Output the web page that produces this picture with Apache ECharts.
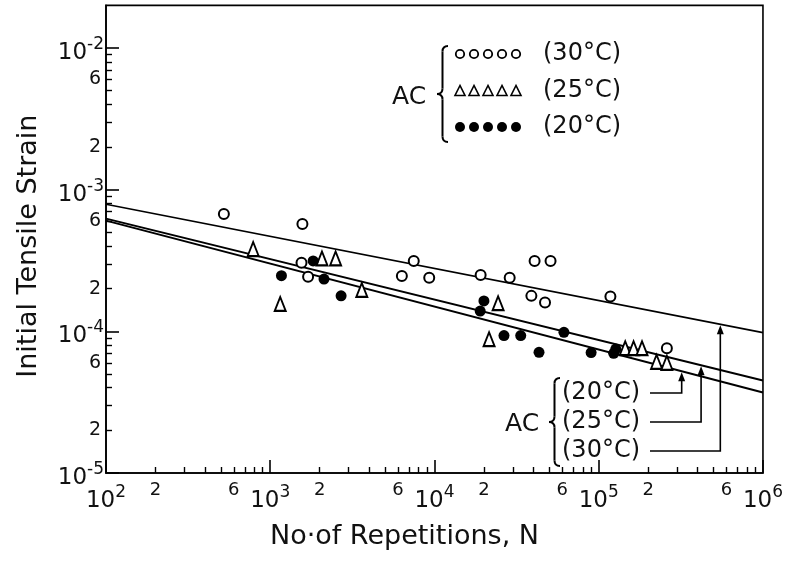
<!DOCTYPE html>
<html>
<head>
<meta charset="utf-8">
<script src="https://cdn.jsdelivr.net/npm/echarts@6/dist/echarts.min.js"></script>
<style>
html, body { margin: 0; padding: 0; background: #fff; }
#chart { width: 786px; height: 561px; }
</style>
</head>
<body>
<div id="chart"></div>
<script>
const FONT = 'DejaVu Sans'
const INK = '#111'

// axis ticks and labels
const xMajor = [1e2, 1e3, 1e4, 1e5, 1e6]
const xMinor = [200, 300, 400, 500, 600, 700, 800, 900,
  2000, 3000, 4000, 5000, 6000, 7000, 8000, 9000,
  20000, 30000, 40000, 50000, 60000, 70000, 80000, 90000,
  200000, 300000, 400000, 500000, 600000, 700000, 800000, 900000]
const xMinorLabels = [200, 600, 2000, 6000, 20000, 60000, 200000, 600000]
const yMajor = [1e-5, 1e-4, 1e-3, 1e-2]
const yMinor = [2e-5, 3e-5, 4e-5, 5e-5, 6e-5, 7e-5, 8e-5, 9e-5,
  2e-4, 3e-4, 4e-4, 5e-4, 6e-4, 7e-4, 8e-4, 9e-4,
  2e-3, 3e-3, 4e-3, 5e-3, 6e-3, 7e-3, 8e-3, 9e-3]
const yMinorLabels = [2e-5, 6e-5, 2e-4, 6e-4, 2e-3, 6e-3]

// fitted lines (strain at N = 1e2 and N = 1e6)
const lineN = [1e2, 1e6]
const fit30 = [7.9e-4, 9.8e-5]
const fit25 = [6.25e-4, 4.5e-5]
const fit20 = [6.05e-4, 3.7e-5]

// measured points [N, strain]
const pts30 = [[522, 6.74e-4], [1570, 5.73e-4], [1550, 3.05e-4], [1700, 2.43e-4],
  [6330, 2.46e-4], [7480, 3.14e-4], [9290, 2.39e-4], [19100, 2.5e-4], [28700, 2.39e-4],
  [38900, 1.78e-4], [40700, 3.14e-4], [50900, 3.14e-4], [47100, 1.6e-4],
  [117800, 1.76e-4], [260000, 7.6e-5]]
const pts25 = [[787, 3.81e-4], [1150, 1.56e-4], [2065, 3.27e-4], [2500, 3.27e-4],
  [3610, 1.96e-4], [21500, 8.8e-5], [24400, 1.58e-4], [145000, 7.6e-5],
  [163000, 7.6e-5], [183500, 7.6e-5], [225000, 6.1e-5], [260000, 6.0e-5]]
const pts20 = [[1170, 2.47e-4], [1825, 3.14e-4], [2125, 2.34e-4], [2700, 1.78e-4],
  [18980, 1.39e-4], [20000, 1.64e-4], [26500, 9.33e-5], [33500, 9.33e-5],
  [43300, 7.11e-5], [61400, 9.84e-5], [89900, 7.08e-5], [123300, 7.0e-5], [127000, 7.5e-5]]

// where the leader arrows meet the lines
const arrowN = { 20: 3.2e5, 25: 4.2e5, 30: 5.5e5 }

const chart = echarts.init(document.getElementById('chart'))

const lead = v => Math.round(v / Math.pow(10, Math.floor(Math.log10(v) + 1e-9)))
const expo = v => Math.round(Math.log10(v))

const supRich = {
  b: { fontSize: 23, fontFamily: FONT, color: INK, lineHeight: 24, padding: [10, 0, 0, 0] },
  s: { fontSize: 17, fontFamily: FONT, color: INK, lineHeight: 18, verticalAlign: 'top' }
}

const baseAxis = {
  type: 'log',
  logBase: 10,
  splitLine: { show: false },
  minorTick: { show: false },
  minorSplitLine: { show: false }
}

const lineSeries = (fit, w) => ({
  type: 'line',
  data: lineN.map((n, i) => [n, fit[i]]),
  symbol: 'none',
  lineStyle: { color: '#000', width: w },
  z: 1,
  silent: true
})

const option = {
  animation: false,
  grid: { left: 106, right: 21, top: 5.4, bottom: 88, show: true, borderColor: '#000', borderWidth: 1.6 },
  xAxis: [
    Object.assign({}, baseAxis, {
      min: 1e2, max: 1e6, position: 'bottom',
      axisLine: { show: true, onZero: false, lineStyle: { color: '#000', width: 1.6 } },
      axisTick: { show: true, inside: true, length: 13, customValues: xMajor, lineStyle: { color: '#000', width: 1.6 } },
      axisLabel: { customValues: xMajor, margin: 11, formatter: v => '{b|10}{s|' + expo(v) + '}', rich: supRich },
      name: 'No·of Repetitions, N',
      nameLocation: 'middle',
      nameGap: 50,
      nameTextStyle: { fontSize: 27, fontFamily: FONT, color: INK, padding: [0, 60, 0, 0] }
    }),
    Object.assign({}, baseAxis, {
      min: 1e2, max: 1e6, position: 'bottom',
      axisLine: { show: false },
      axisTick: { show: true, inside: true, length: 6, customValues: xMinor, lineStyle: { color: '#000', width: 1.4 } },
      axisLabel: { customValues: xMinorLabels, margin: 8, fontSize: 18, fontFamily: FONT, color: INK, formatter: v => String(lead(v)) }
    })
  ],
  yAxis: [
    Object.assign({}, baseAxis, {
      min: 1e-5, max: 2e-2, position: 'left',
      axisLine: { show: true, onZero: false, lineStyle: { color: '#000', width: 1.6 } },
      axisTick: { show: true, inside: true, length: 13, customValues: yMajor, lineStyle: { color: '#000', width: 1.6 } },
      axisLabel: { customValues: yMajor, margin: 2, formatter: v => '{b|10}{s|-' + (-expo(v)) + '}', rich: supRich },
      name: 'Initial Tensile Strain',
      nameLocation: 'middle',
      nameGap: 64,
      nameTextStyle: { fontSize: 27, fontFamily: FONT, color: INK, padding: [0, 14, 0, 0] }
    }),
    Object.assign({}, baseAxis, {
      min: 1e-5, max: 2e-2, position: 'left',
      axisLine: { show: false },
      axisTick: { show: true, inside: true, length: 6, customValues: yMinor, lineStyle: { color: '#000', width: 1.4 } },
      axisLabel: { customValues: yMinorLabels, margin: 5, fontSize: 19, fontFamily: FONT, color: INK, formatter: v => String(lead(v)) }
    })
  ],
  series: [
    lineSeries(fit30, 1.6),
    lineSeries(fit25, 1.9),
    lineSeries(fit20, 1.9),
    {
      type: 'scatter', data: pts30, symbol: 'circle', symbolSize: 10, z: 3,
      itemStyle: { color: '#fff', borderColor: '#000', borderWidth: 2, opacity: 1 }
    },
    {
      type: 'scatter', data: pts25, symbol: 'triangle', symbolSize: [11, 14], z: 3,
      itemStyle: { color: '#fff', borderColor: '#000', borderWidth: 2, opacity: 1 }
    },
    {
      type: 'scatter', data: pts20, symbol: 'circle', symbolSize: 11, z: 3,
      itemStyle: { color: '#000', opacity: 1 }
    }
  ]
}

chart.setOption(option)

// ---- annotations ----
const text = (t, x, y, size) => ({
  type: 'text', x: x, y: y, z: 10,
  style: { text: t, fontSize: size, fontFamily: FONT, fill: INK, verticalAlign: 'middle', align: 'left' }
})

const stroke = { stroke: '#000', lineWidth: 2, fill: null }

// curly brace "{" with its point on the left
const brace = (x, y0, y1, w) => {
  const xm = x + w / 2, ym = (y0 + y1) / 2, r = w / 2
  const curve = (x1, y1_, cx, cy, x2, y2) => ({ type: 'bezierCurve', z: 10, shape: { x1: x1, y1: y1_, cpx1: cx, cpy1: cy, x2: x2, y2: y2 }, style: stroke })
  const seg = (x1, y1_, x2, y2) => ({ type: 'line', z: 10, shape: { x1: x1, y1: y1_, x2: x2, y2: y2 }, style: stroke })
  return [
    curve(x + w, y0, xm, y0, xm, y0 + r),
    seg(xm, y0 + r, xm, ym - r),
    curve(xm, ym - r, xm, ym, x, ym),
    curve(x, ym, xm, ym, xm, ym + r),
    seg(xm, ym + r, xm, y1 - r),
    curve(xm, y1 - r, xm, y1, x + w, y1)
  ]
}

const g = []
// upper key
g.push(text('AC', 392, 97, 25))
g.push(...brace(437, 46, 142, 11))
const rowY = [54, 91, 127]
for (let i = 0; i < 5; i++) {
  const cx = 460 + 14 * i
  g.push({ type: 'circle', z: 10, shape: { cx: cx, cy: rowY[0], r: 4.2 }, style: { fill: '#fff', stroke: '#000', lineWidth: 1.8 } })
  g.push({ type: 'polygon', z: 10, shape: { points: [[cx, rowY[1] - 5.5], [cx - 5, rowY[1] + 4.5], [cx + 5, rowY[1] + 4.5]] }, style: { fill: '#fff', stroke: '#000', lineWidth: 1.6 } })
  g.push({ type: 'circle', z: 10, shape: { cx: cx, cy: rowY[2], r: 5 }, style: { fill: '#000' } })
}
g.push(text('(30°C)', 543, rowY[0], 24))
g.push(text('(25°C)', 543, rowY[1], 24))
g.push(text('(20°C)', 543, rowY[2], 24))

// lower key with leaders to the lines
g.push(text('AC', 505, 424, 25))
g.push(...brace(549, 378, 466, 11))
const fits = { 20: fit20, 25: fit25, 30: fit30 }
const leadY = { 20: 393, 25: 422, 30: 451 }
const fitAt = (fit, n) => {
  const t = (Math.log10(n) - 2) / 4
  return Math.pow(10, Math.log10(fit[0]) + t * (Math.log10(fit[1]) - Math.log10(fit[0])))
}
;[20, 25, 30].forEach(k => {
  g.push(text('(' + k + '°C)', 562, leadY[k], 24))
  const tip = chart.convertToPixel({ xAxisIndex: 0, yAxisIndex: 0 }, [arrowN[k], fitAt(fits[k], arrowN[k])])
  g.push({ type: 'polyline', z: 10, shape: { points: [[650, leadY[k]], [tip[0], leadY[k]], [tip[0], tip[1] + 8]] }, style: { stroke: '#000', lineWidth: 1.6, fill: null } })
  g.push({ type: 'polygon', z: 10, shape: { points: [[tip[0], tip[1] + 1], [tip[0] - 3.5, tip[1] + 10], [tip[0] + 3.5, tip[1] + 10]] }, style: { fill: '#000' } })
})

chart.setOption({ graphic: g })
</script>
</body>
</html>
